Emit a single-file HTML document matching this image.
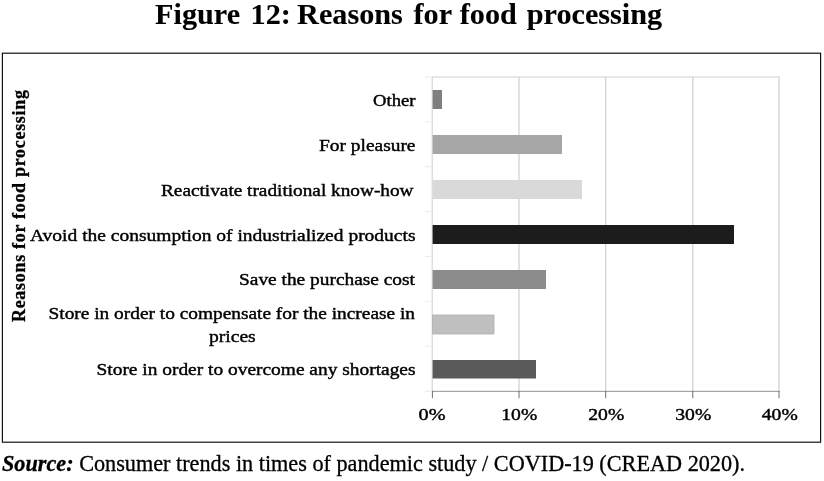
<!DOCTYPE html>
<html><head><meta charset="utf-8">
<style>
html,body{margin:0;padding:0;background:#fff;}
body{width:824px;height:481px;overflow:hidden;font-family:"Liberation Serif",serif;}
svg{display:block;}
text{font-family:"Liberation Serif",serif;fill:#000;stroke:#000;stroke-width:0.3px;}
svg{filter:grayscale(1);}
.lab text{font-size:17.6px;stroke-width:0.42px;}
.xl text{font-size:16.6px;stroke-width:0.4px;}
#title text{stroke-width:0.1px;}
</style></head><body>
<svg width="824" height="481" viewBox="0 0 824 481">
<rect width="824" height="481" fill="#fff"/>
<!-- title -->
<g id="title" font-size="30.2" font-weight="bold">
<text x="155.1" y="24.3">Figure</text>
<text x="250.6" y="24.3">12:</text>
<text x="297.1" y="24.3">Reasons</text>
<text x="413.5" y="24.3">for</text>
<text x="459.8" y="24.3">food</text>
<text x="526.8" y="24.3">processing</text>
</g>
<!-- frame -->
<rect x="2.4" y="53.2" width="818.2" height="389" fill="none" stroke="#0a0a0a" stroke-width="1.15"/>
<!-- gridlines -->
<g stroke="#cfcfcf" stroke-width="1.2" fill="none">
<line x1="432" y1="77" x2="779.6" y2="77"/>
<line x1="519" y1="77" x2="519" y2="391"/>
<line x1="605.7" y1="77" x2="605.7" y2="391"/>
<line x1="692.8" y1="77" x2="692.8" y2="391"/>
<line x1="779" y1="77" x2="779" y2="391"/>
</g>
<!-- axes -->
<line x1="432.2" y1="77" x2="432.2" y2="391.5" stroke="#cfcfcf" stroke-width="1"/>
<g stroke="#858585" stroke-width="0.9" fill="none">
<line x1="432" y1="391.3" x2="779.5" y2="391.3"/>
</g>
<g stroke="#606060" stroke-width="0.9" fill="none">
<line x1="432.4" y1="391" x2="432.4" y2="398.2"/>
<line x1="519" y1="391" x2="519" y2="398.2"/>
<line x1="605.7" y1="391" x2="605.7" y2="398.2"/>
<line x1="692.8" y1="391" x2="692.8" y2="398.2"/>
<line x1="779" y1="391" x2="779" y2="398.2"/>
</g>
<g stroke="#ebebeb" stroke-width="1" fill="none">
<line x1="425" y1="77" x2="432" y2="77"/>
<line x1="425" y1="122" x2="432" y2="122"/>
<line x1="425" y1="166.7" x2="432" y2="166.7"/>
<line x1="425" y1="211.6" x2="432" y2="211.6"/>
<line x1="425" y1="256.5" x2="432" y2="256.5"/>
<line x1="425" y1="301.3" x2="432" y2="301.3"/>
<line x1="425" y1="346.2" x2="432" y2="346.2"/>
<line x1="425" y1="391.3" x2="432" y2="391.3"/>
</g>
<!-- bars -->
<rect x="432.6" y="90" width="9.4" height="19" fill="#7f7f7f"/>
<rect x="432.6" y="135" width="129.4" height="19" fill="#a6a6a6"/>
<rect x="432.6" y="180" width="149.4" height="19" fill="#d9d9d9"/>
<rect x="432.6" y="225" width="301.4" height="19" fill="#1c1c1c"/>
<rect x="432.6" y="270" width="113.4" height="19" fill="#8c8c8c"/>
<rect x="432.6" y="315" width="61.4" height="19" fill="#bfbfbf" stroke="#b0b0b0" stroke-width="0.8"/>
<rect x="432.6" y="360" width="103.4" height="18.5" fill="#595959"/>
<!-- category labels -->
<g class="lab">
<text id="l1" x="373" y="106" textLength="42.5" lengthAdjust="spacingAndGlyphs">Other</text>
<text id="l2" x="319" y="150.8" textLength="96.5" lengthAdjust="spacingAndGlyphs">For pleasure</text>
<text id="l3" x="161" y="195.8" textLength="252.5" lengthAdjust="spacingAndGlyphs">Reactivate traditional know-how</text>
<text id="l4" x="30" y="240.6" textLength="385.5" lengthAdjust="spacingAndGlyphs">Avoid the consumption of industrialized products</text>
<text id="l5" x="239" y="285" textLength="176" lengthAdjust="spacingAndGlyphs">Save the purchase cost</text>
<text id="l6" x="48.5" y="318.5" textLength="366.5" lengthAdjust="spacingAndGlyphs">Store in order to compensate for the increase in</text>
<text id="l6b" x="209" y="341.5" textLength="46.7" lengthAdjust="spacingAndGlyphs">prices</text>
<text id="l7" x="96.5" y="374.7" textLength="319" lengthAdjust="spacingAndGlyphs">Store in order to overcome any shortages</text>
</g>
<!-- x labels -->
<g class="xl">
<text id="x0" x="418.5" y="420" textLength="27" lengthAdjust="spacingAndGlyphs">0%</text>
<text id="x1" x="501.3" y="420" textLength="36" lengthAdjust="spacingAndGlyphs">10%</text>
<text id="x2" x="588.3" y="420" textLength="36" lengthAdjust="spacingAndGlyphs">20%</text>
<text id="x3" x="675.3" y="420" textLength="36" lengthAdjust="spacingAndGlyphs">30%</text>
<text id="x4" x="761.8" y="420" textLength="36" lengthAdjust="spacingAndGlyphs">40%</text>
</g>
<!-- y axis title -->
<text id="yt" transform="translate(25,322) rotate(-90)" font-size="18" font-weight="bold" textLength="232">Reasons for food processing</text>
<!-- caption -->
<text id="cap" x="2" y="470.5" font-size="22.23"><tspan font-weight="bold" font-style="italic">Source:</tspan> Consumer trends in times of pandemic study / COVID-19 (CREAD 2020).</text>
</svg>
</body></html>
